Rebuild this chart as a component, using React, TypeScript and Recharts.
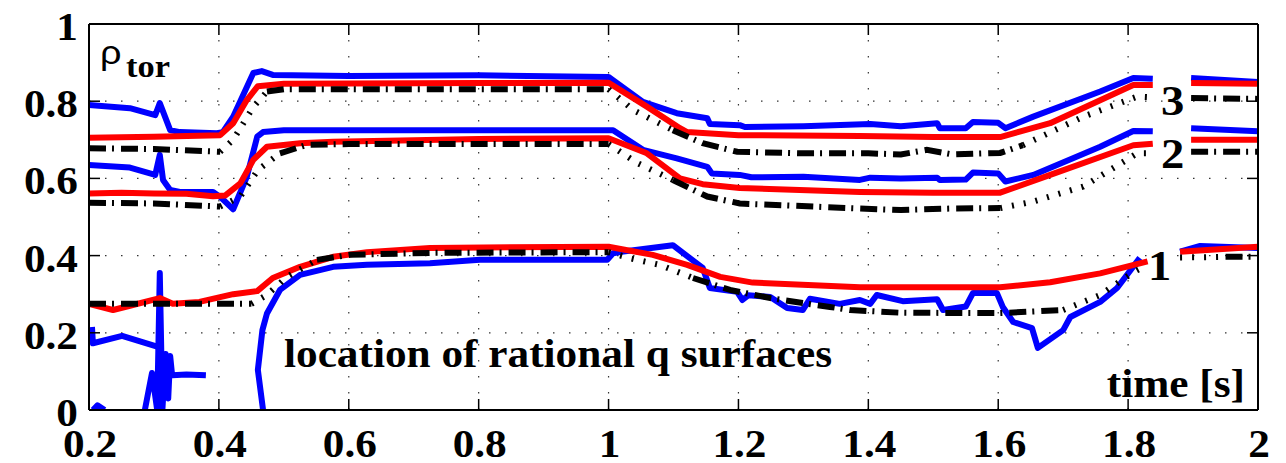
import React from "react";
import { LineChart, Line, XAxis, YAxis, CartesianGrid } from "recharts";

type Pt = [number, number | null];

const xTicks = [0.2, 0.4, 0.6, 0.8, 1, 1.2, 1.4, 1.6, 1.8, 2];
const yTicks = [0, 0.2, 0.4, 0.6, 0.8, 1];

// q = 3 surface
const q3Blue: Pt[] = [
  [0.2, 0.79], [0.263, 0.782], [0.302, 0.764], [0.309, 0.795], [0.325, 0.725], [0.34, 0.72],
  [0.397, 0.717], [0.406, 0.72], [0.422, 0.76], [0.453, 0.873], [0.466, 0.878], [0.483, 0.868],
  [0.6, 0.865], [0.8, 0.867], [1.0, 0.863], [1.053, 0.798], [1.105, 0.769], [1.152, 0.756],
  [1.156, 0.741], [1.202, 0.738], [1.21, 0.733], [1.3, 0.735], [1.403, 0.741], [1.45, 0.735],
  [1.506, 0.743], [1.51, 0.73], [1.55, 0.73], [1.561, 0.746], [1.6, 0.744], [1.611, 0.73],
  [1.654, 0.76], [1.757, 0.825], [1.808, 0.86], [1.838, 0.858], [1.86, null], [1.897, 0.86],
  [2.0, 0.85],
];
const q3Red: Pt[] = [
  [0.2, 0.705], [0.3, 0.708], [0.402, 0.712], [0.422, 0.743], [0.443, 0.803], [0.46, 0.839],
  [0.5, 0.845], [0.8, 0.847], [1.0, 0.848], [1.059, 0.786], [1.11, 0.73], [1.121, 0.72],
  [1.2, 0.712], [1.387, 0.71], [1.5, 0.707], [1.603, 0.707], [1.68, 0.743], [1.808, 0.842],
  [1.838, 0.842], [1.86, null], [1.897, 0.847], [2.0, 0.845],
];
const q3Black: Pt[] = [
  [0.2, 0.678], [0.3, 0.676], [0.402, 0.669], [0.422, 0.7], [0.453, 0.785], [0.474, 0.825],
  [0.5, 0.831], [1.0, 0.831], [1.038, 0.777], [1.099, 0.725], [1.145, 0.691], [1.198, 0.669],
  [1.3, 0.665], [1.4, 0.665], [1.45, 0.662], [1.49, 0.674], [1.53, 0.662], [1.603, 0.666],
  [1.638, 0.686], [1.731, 0.76], [1.814, 0.812], [1.838, 0.81], [1.86, null], [1.897, 0.808],
  [2.0, 0.806],
];
const q3BlackDotted: [number, number][] = [[0.402, 0.474], [1.0, 1.099], [1.638, 1.838]];

// q = 2 surface
const q2Blue: Pt[] = [
  [0.2, 0.635], [0.263, 0.628], [0.302, 0.609], [0.309, 0.661], [0.314, 0.596], [0.325, 0.57],
  [0.34, 0.565], [0.391, 0.565], [0.402, 0.552], [0.422, 0.52], [0.443, 0.604], [0.459, 0.708],
  [0.468, 0.72], [0.5, 0.725], [1.007, 0.725], [1.053, 0.674], [1.105, 0.652], [1.152, 0.63],
  [1.159, 0.613], [1.202, 0.609], [1.22, 0.603], [1.3, 0.604], [1.387, 0.596], [1.403, 0.602],
  [1.45, 0.6], [1.506, 0.602], [1.51, 0.596], [1.55, 0.597], [1.561, 0.615], [1.6, 0.613],
  [1.611, 0.592], [1.654, 0.609], [1.757, 0.682], [1.808, 0.723], [1.838, 0.722], [1.86, null],
  [1.897, 0.73], [2.0, 0.722],
];
const q2Red: Pt[] = [
  [0.2, 0.561], [0.25, 0.563], [0.3, 0.561], [0.35, 0.56], [0.391, 0.554], [0.41, 0.556],
  [0.433, 0.587], [0.453, 0.648], [0.474, 0.682], [0.525, 0.691], [0.576, 0.695], [0.7, 0.699],
  [0.8, 0.702], [1.0, 0.704], [1.059, 0.665], [1.11, 0.6], [1.145, 0.585], [1.202, 0.575],
  [1.387, 0.565], [1.5, 0.563], [1.603, 0.563], [1.68, 0.609], [1.808, 0.686], [1.838, 0.69],
  [1.86, null], [1.897, 0.7], [2.0, 0.7],
];
const q2Black: Pt[] = [
  [0.2, 0.537], [0.3, 0.535], [0.402, 0.527], [0.433, 0.553], [0.46, 0.622], [0.494, 0.665],
  [0.536, 0.687], [0.6, 0.689], [1.0, 0.689], [1.044, 0.64], [1.099, 0.596], [1.152, 0.553],
  [1.202, 0.535], [1.387, 0.522], [1.45, 0.518], [1.53, 0.522], [1.603, 0.523], [1.654, 0.54],
  [1.731, 0.579], [1.814, 0.665], [1.838, 0.665], [1.86, null], [1.897, 0.669], [2.0, 0.669],
];
const q2BlackDotted: [number, number][] = [[0.402, 0.494], [1.0, 1.099], [1.603, 1.838]];

// q = 1 surface
const q1Red: Pt[] = [
  [0.2, 0.275], [0.237, 0.259], [0.263, 0.27], [0.309, 0.29], [0.329, 0.275], [0.37, 0.28],
  [0.422, 0.3], [0.459, 0.308], [0.483, 0.342], [0.525, 0.371], [0.576, 0.397], [0.628, 0.409],
  [0.725, 0.42], [1.0, 0.423], [1.068, 0.402], [1.121, 0.376], [1.172, 0.345], [1.222, 0.33],
  [1.387, 0.318], [1.5, 0.318], [1.603, 0.318], [1.68, 0.331], [1.757, 0.354], [1.818, 0.38],
  [1.83, 0.385], [1.85, null], [1.88, 0.41], [2.0, 0.423],
];
const q1Black: Pt[] = [
  [0.2, 0.275], [0.45, 0.275], [0.474, 0.298], [0.505, 0.345], [0.551, 0.389], [0.602, 0.402],
  [0.725, 0.407], [1.0, 0.409], [1.033, 0.393], [1.079, 0.376], [1.13, 0.342], [1.187, 0.311],
  [1.249, 0.29], [1.299, 0.277], [1.341, 0.267], [1.372, 0.259], [1.449, 0.252], [1.603, 0.251],
  [1.7, 0.259], [1.757, 0.298], [1.808, 0.357], [1.823, 0.37], [1.85, null], [1.88, 0.395],
  [1.92, 0.396], [1.95, 0.397], [2.0, 0.397],
];
const q1BlackDotted: [number, number][] = [[0.45, 0.551], [1.0, 1.13], [1.7, 1.823], [1.88, 1.95]];

const q1Blue: Pt[] = [
  [0.468, 0.0], [0.46, 0.104], [0.467, 0.207], [0.474, 0.25], [0.494, 0.311], [0.525, 0.35],
  [0.576, 0.371], [0.628, 0.376], [0.725, 0.38], [0.802, 0.389], [0.998, 0.389], [1.007, 0.406],
  [1.02, 0.41], [1.099, 0.427], [1.145, 0.368], [1.156, 0.316], [1.198, 0.306], [1.206, 0.285],
  [1.215, 0.297], [1.249, 0.293], [1.275, 0.264], [1.299, 0.259], [1.31, 0.288], [1.356, 0.275],
  [1.387, 0.285], [1.403, 0.275], [1.413, 0.298], [1.453, 0.282], [1.506, 0.287], [1.515, 0.259],
  [1.55, 0.268], [1.561, 0.303], [1.598, 0.303], [1.607, 0.267], [1.623, 0.228], [1.652, 0.212],
  [1.661, 0.161], [1.7, 0.207], [1.711, 0.241], [1.757, 0.28], [1.783, 0.316], [1.818, 0.394],
  [1.85, null], [1.88, 0.41], [1.911, 0.425], [2.0, 0.42],
];
const q1BlueEarly: Pt[] = [[0.2046, 0.215], [0.206, 0.173], [0.251, 0.192], [0.305, 0.164]];
const q1BlueBlip: Pt[] = [[0.206, 0.0], [0.213, 0.012], [0.224, 0.0]];
const q1BlueSpike: Pt[] = [
  [0.286, 0.0], [0.297, 0.096], [0.305, 0.0], [0.309, 0.355], [0.313, 0.0], [0.318, 0.145],
  [0.322, 0.03], [0.325, 0.14], [0.328, 0.09], [0.35, 0.092], [0.38, 0.09],
];

const toData = (pts: Pt[]) => pts.map(([t, v]) => ({ t, v }));
const splitStyle = (pts: Pt[], ranges: [number, number][]) => {
  const inside = (t: number) => ranges.some(([a, b]) => t > a && t < b);
  const within = (t: number) => ranges.some(([a, b]) => t >= a && t <= b);
  return {
    dashed: pts.map(([t, v]) => ({ t, v: inside(t) ? null : v })),
    dotted: pts.map(([t, v]) => ({ t, v: within(t) ? v : null })),
  };
};

const BLUE = "#0000ff";
const RED = "#ff0000";
const BLACK = "#000000";
const SERIF = "'Liberation Serif', 'Times New Roman', serif";
const SX = 1.11;

const BottomTick = (p: any) => (
  <g>
    <line x1={p.x} x2={p.x} y1={p.y} y2={p.y - 11} stroke="#000" strokeWidth={1.5} />
    <text
      transform={`translate(${p.x + 1},${p.y + 47}) scale(${SX},1)`}
      textAnchor="middle"
      fontFamily={SERIF}
      fontWeight="bold"
      fontSize={39}
      fill="#000"
    >
      {String(p.payload.value)}
    </text>
  </g>
);
const LeftTick = (p: any) => (
  <g>
    <line x1={p.x} x2={p.x + 11} y1={p.y} y2={p.y} stroke="#000" strokeWidth={1.5} />
    <text
      transform={`translate(${p.x - 11},${p.y + 16}) scale(${SX},1)`}
      textAnchor="end"
      fontFamily={SERIF}
      fontWeight="bold"
      fontSize={39}
      fill="#000"
    >
      {String(p.payload.value)}
    </text>
  </g>
);
const TopTick = (p: any) => (
  <line x1={p.x} x2={p.x} y1={p.y} y2={p.y + 11} stroke="#000" strokeWidth={1.5} />
);
const RightTick = (p: any) => (
  <line x1={p.x} x2={p.x - 11} y1={p.y} y2={p.y} stroke="#000" strokeWidth={1.5} />
);

const DASH = "17 6 2 7";
const DOTS = "2 10";

export default function App() {
  const b3 = splitStyle(q3Black, q3BlackDotted);
  const b2 = splitStyle(q2Black, q2BlackDotted);
  const b1 = splitStyle(q1Black, q1BlackDotted);

  const blueSeries = [q3Blue, q2Blue, q1Blue, q1BlueEarly, q1BlueBlip, q1BlueSpike];
  const redSeries = [q3Red, q2Red, q1Red];

  const txt = (x: number, y: number, s: string, size: number, anchor = "start", bold = true, family = SERIF) => (
    <text
      transform={`translate(${x},${y}) scale(${SX},1)`}
      textAnchor={anchor}
      fontFamily={family}
      fontWeight={bold ? "bold" : "normal"}
      fontSize={size}
      fill="#000"
    >
      {s}
    </text>
  );

  return (
    <div style={{ position: "relative", width: 1278, height: 455 }}>
      <LineChart width={1278} height={455} margin={{ top: 15, right: 27, bottom: 0, left: 0 }}>
        <CartesianGrid stroke="#333" strokeWidth={1.2} strokeDasharray="1.5 14.5" />
        <XAxis
          dataKey="t"
          type="number"
          domain={[0.2, 2]}
          ticks={xTicks}
          interval={0}
          allowDataOverflow
          height={53}
          tickSize={0}
          tickMargin={0}
          tickLine={false}
          axisLine={{ stroke: "#000", strokeWidth: 2 }}
          tick={BottomTick}
        />
        <XAxis
          xAxisId="top"
          orientation="top"
          dataKey="t"
          type="number"
          domain={[0.2, 2]}
          ticks={xTicks}
          interval={0}
          allowDataOverflow
          height={1}
          tickSize={0}
          tickMargin={0}
          tickLine={false}
          axisLine={{ stroke: "#000", strokeWidth: 2 }}
          tick={TopTick}
        />
        <YAxis
          type="number"
          domain={[0, 1]}
          ticks={yTicks}
          interval={0}
          allowDataOverflow
          width={81}
          tickSize={0}
          tickMargin={0}
          tickLine={false}
          axisLine={{ stroke: "#000", strokeWidth: 2 }}
          tick={LeftTick}
        />
        <YAxis
          yAxisId="right"
          orientation="right"
          type="number"
          domain={[0, 1]}
          ticks={yTicks}
          interval={0}
          allowDataOverflow
          width={1}
          tickSize={0}
          tickMargin={0}
          tickLine={false}
          axisLine={{ stroke: "#000", strokeWidth: 2 }}
          tick={RightTick}
        />
        {blueSeries.map((s, i) => (
          <Line
            key={"b" + i}
            data={toData(s)}
            dataKey="v"
            stroke={BLUE}
            strokeWidth={6}
            dot={false}
            activeDot={false}
            isAnimationActive={false}
            strokeLinejoin="round"
          />
        ))}
        {redSeries.map((s, i) => (
          <Line
            key={"r" + i}
            data={toData(s)}
            dataKey="v"
            stroke={RED}
            strokeWidth={6}
            dot={false}
            activeDot={false}
            isAnimationActive={false}
            strokeLinejoin="round"
          />
        ))}
        {[b3, b2, b1].map((s, i) => (
          <Line
            key={"kd" + i}
            data={s.dashed}
            dataKey="v"
            stroke={BLACK}
            strokeWidth={6}
            strokeDasharray={DASH}
            dot={false}
            activeDot={false}
            isAnimationActive={false}
          />
        ))}
        {[b3, b2, b1].map((s, i) => (
          <Line
            key={"kt" + i}
            data={s.dotted}
            dataKey="v"
            stroke={BLACK}
            strokeWidth={6}
            strokeDasharray={DOTS}
            dot={false}
            activeDot={false}
            isAnimationActive={false}
          />
        ))}
      </LineChart>
      <svg
        width={1278}
        height={455}
        style={{ position: "absolute", left: 0, top: 0, pointerEvents: "none" }}
      >
        {txt(92, 56, "ρ", 34, "start", false, "'Liberation Sans', Arial, sans-serif")}
        {txt(118, 69, "tor", 31)}
        {txt(276, 359, "location of rational q surfaces", 39)}
        {txt(1237, 389, "time [s]", 39, "end")}
        {txt(1153, 107, "3", 42)}
        {txt(1153, 160, "2", 42)}
        {txt(1140, 272, "1", 42)}
      </svg>
    </div>
  );
}
